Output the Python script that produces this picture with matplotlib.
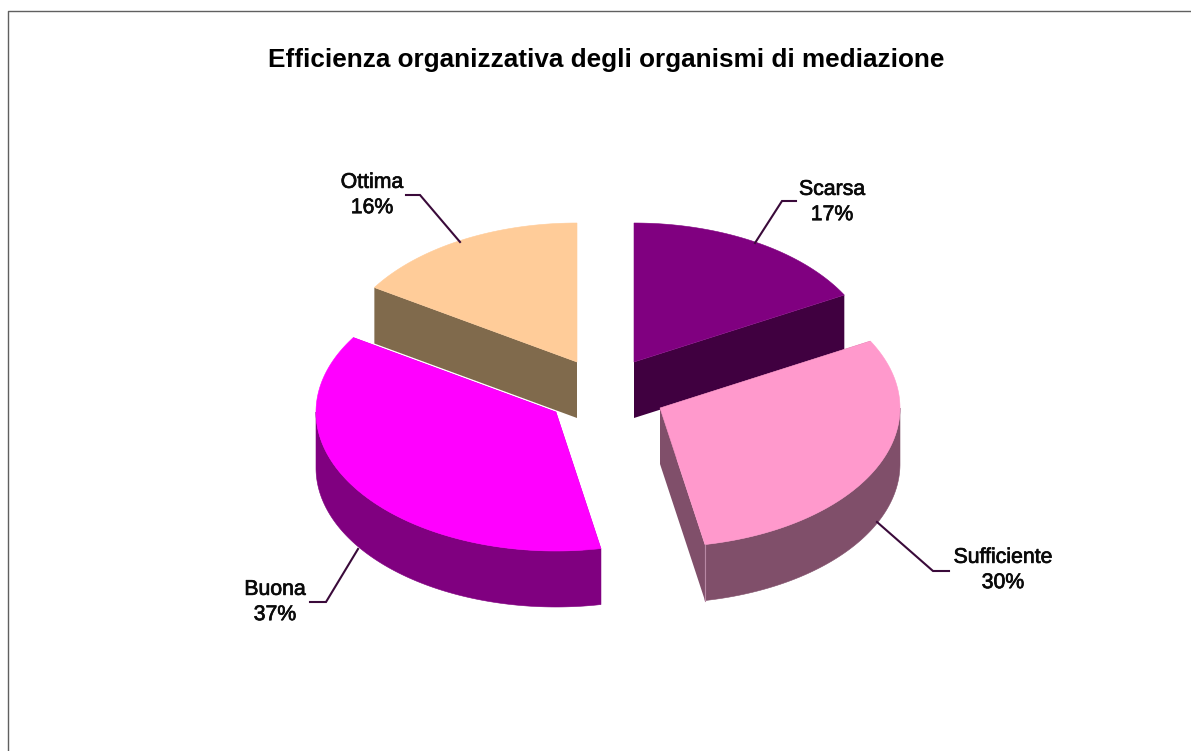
import matplotlib
matplotlib.use("Agg")
import matplotlib.pyplot as plt
import matplotlib.patheffects as pe
import numpy as np
from matplotlib.patches import Polygon

title = "Efficienza organizzativa degli organismi di mediazione"
categories = ["Scarsa", "Sufficiente", "Buona", "Ottima"]
values = [17, 30, 37, 16]

top_colors = ["#800080", "#FF99CC", "#FF00FF", "#FFCC99"]
side_colors = ["#400040", "#804F6A", "#800080", "#806A4C"]
leader_color = "#3A0A3A"

# Layout in pixels: ellipse radii, extrusion depth, exploded apex of each slice
RX, RY, DEPTH = 240, 139, 56
apexes = [(634, 362), (660, 408), (556, 412), (577, 362)]
label_pos = [(832, 202), (1003, 570), (275, 602), (372, 195)]
leaders = [
    [(755, 243), (782, 201), (796, 201)],
    [(877, 522), (933, 571), (949, 571)],
    [(358, 549), (326, 602), (310, 602)],
    [(460, 242), (420, 195), (406, 195)],
]
# Back slices first so the front ones overlap them
draw_order = [3, 0, 2, 1]

plt.rcParams["font.family"] = ["Liberation Sans", "DejaVu Sans"]

fig = plt.figure(figsize=(11.91, 7.51), dpi=100)
ax = fig.add_axes([0, 0, 1, 1])
ax.set_xlim(0, 1191)
ax.set_ylim(751, 0)
ax.axis("off")


def rim(apex, start, end, n=120):
    t = np.linspace(start, end, n)
    return np.column_stack([apex[0] + RX * np.sin(t), apex[1] - RY * np.cos(t)])


def add_poly(pts, color, z, lw=0.4):
    ax.add_patch(Polygon(pts, closed=True, facecolor=color, edgecolor=color if lw else "none",
                         linewidth=lw, zorder=z))


edges = np.deg2rad(np.cumsum([0] + values) / sum(values) * 360)
down = np.array([0, DEPTH])

for z, i in enumerate(draw_order):
    start, end = edges[i], edges[i + 1]
    apex = np.array(apexes[i])
    base = z * 10 + 1

    # Cut faces
    for a in (start, end):
        edge = rim(apex, a, a, 1)[0]
        add_poly([apex, edge, edge + down, apex + down], side_colors[i], base, lw=0)

    # Outer wall, only the front half of the ellipse is visible
    lo, hi = max(start, np.pi / 2), min(end, 3 * np.pi / 2)
    if lo < hi:
        arc = rim(apex, lo, hi)
        add_poly(np.vstack([arc, (arc + down)[::-1]]), side_colors[i], base + 1)

    # Top face
    add_poly(np.vstack([apex, rim(apex, start, end)]), top_colors[i], base + 2)

# Lighter seam where the cut face of Sufficiente meets its outer wall
seam = rim(np.array(apexes[1]), edges[2], edges[2], 1)[0]
ax.plot([seam[0], seam[0]], [seam[1], seam[1] + DEPTH], color="#B888A4", lw=0.8, zorder=60)

for pts in leaders:
    xs, ys = zip(*pts)
    ax.plot(xs, ys, color=leader_color, lw=1.5, solid_joinstyle="miter", zorder=70)

for name, val, (x, y) in zip(categories, values, label_pos):
    ax.text(x, y, f"{name}\n{val}%", ha="center", va="center", fontsize=15.3,
            linespacing=1.42, color="#0A0A0A", zorder=80,
            path_effects=[pe.withStroke(linewidth=0.5, foreground="#0A0A0A")])

ax.text(606, 60, title, ha="center", va="center", fontsize=18.85, fontweight="bold", color="black")

# Chart frame shows only on the left and top
ax.plot([7.5, 7.5, 1191], [751, 10.5, 10.5], color="#606060", lw=1.0, zorder=90)

fig.savefig("out.png", dpi=100, facecolor="white")
